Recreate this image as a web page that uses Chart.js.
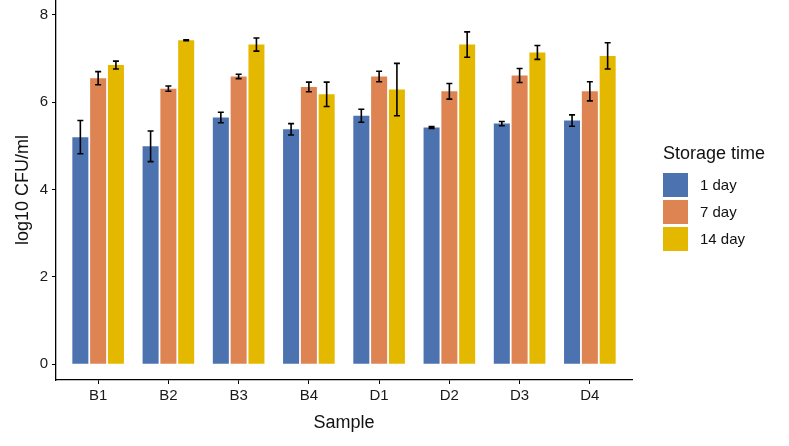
<!DOCTYPE html>
<html>
<head>
<meta charset="utf-8">
<script src="https://cdn.jsdelivr.net/npm/chart.js@4"></script>
<style>
  html, body { margin: 0; padding: 0; background: #fff; }
  #wrap { position: relative; width: 789px; height: 446px; font-family: "Liberation Sans", Arial, sans-serif; }
  #legend { position: absolute; left: 663px; top: 143px; color: #111; }
  #legend .title { font-size: 18px; margin-bottom: 7px; }
  #legend .item { display: flex; align-items: center; height: 27px; font-size: 15px; }
  #legend .sw { width: 25px; height: 24px; margin-right: 12px; }
</style>
</head>
<body>
<div id="wrap">
  <canvas id="chart" width="789" height="446"></canvas>
  <div id="legend"></div>
</div>
<script>
const samples = ['B1', 'B2', 'B3', 'B4', 'D1', 'D2', 'D3', 'D4'];
const seriesNames = ['1 day', '7 day', '14 day'];
const seriesColors = ['#4C72B0', '#DE8452', '#E5B800'];

// means
const day1 = [5.20, 4.99, 5.65, 5.38, 5.69, 5.42, 5.51, 5.58];
const day7 = [6.55, 6.31, 6.59, 6.35, 6.59, 6.25, 6.61, 6.25];
const day14 = [6.85, 7.42, 7.32, 6.18, 6.29, 7.32, 7.14, 7.06];

// error (+/-)
const day1Err = [0.38, 0.35, 0.12, 0.13, 0.15, 0.02, 0.05, 0.13];
const day7Err = [0.15, 0.06, 0.05, 0.11, 0.12, 0.18, 0.16, 0.22];
const day14Err = [0.09, 0.01, 0.15, 0.28, 0.60, 0.29, 0.16, 0.30];

const yTicks = [0, 2, 4, 6, 8];

const means = [day1, day7, day14];
const errs = [day1Err, day7Err, day14Err];

const datasets = means.map((vals, i) => ({
    label: seriesNames[i],
    data: vals.map((v, j) => ({ x: j + 1, y: v })),
    backgroundColor: seriesColors[i],
    borderWidth: 0,
    categoryPercentage: 0.76,
    barPercentage: 0.9,
    errors: errs[i]
}));

// error bars drawn through the y scale
const errorBars = {
    id: 'errorBars',
    afterDatasetsDraw(chart) {
        const ctx = chart.ctx;
        const y = chart.scales.y;
        ctx.save();
        ctx.strokeStyle = '#000';
        ctx.lineWidth = 1.6;
        chart.data.datasets.forEach((ds, i) => {
            const meta = chart.getDatasetMeta(i);
            meta.data.forEach((bar, j) => {
                const v = ds.data[j].y;
                const e = ds.errors[j];
                const top = y.getPixelForValue(v + e);
                const bot = y.getPixelForValue(v - e);
                const cx = bar.x;
                ctx.beginPath();
                ctx.moveTo(cx, top); ctx.lineTo(cx, bot);
                ctx.moveTo(cx - 3, top); ctx.lineTo(cx + 3, top);
                ctx.moveTo(cx - 3, bot); ctx.lineTo(cx + 3, bot);
                ctx.stroke();
            });
        });
        ctx.restore();
    }
};

const font = 'Liberation Sans';

new Chart(document.getElementById('chart'), {
    type: 'bar',
    data: { datasets: datasets },
    options: {
        responsive: false,
        animation: false,
        layout: { padding: { left: 8, right: 157, top: 0, bottom: 8 } },
        plugins: { legend: { display: false }, tooltip: { enabled: false } },
        scales: {
            x: {
                type: 'linear',
                offset: false,
                min: 0.4,
                max: 8.6,
                afterBuildTicks: s => { s.ticks = samples.map((_, i) => ({ value: i + 1 })); },
                afterFit: s => { s.height = 58; s.paddingLeft = 0; s.paddingRight = 0; },
                ticks: {
                    callback: v => samples[v - 1],
                    color: '#1a1a1a',
                    font: { family: font, size: 15 },
                    padding: 3,
                    autoSkip: false,
                    maxRotation: 0
                },
                grid: { offset: false, drawOnChartArea: false, drawTicks: true, tickLength: 4, color: '#000' },
                border: { display: true, color: '#000', width: 1.3 },
                title: { display: true, text: 'Sample', color: '#111', font: { family: font, size: 18 }, padding: { top: 2, bottom: 4 } }
            },
            y: {
                min: -0.36,
                max: 8.34,
                afterBuildTicks: s => { s.ticks = yTicks.map(v => ({ value: v })); },
                afterFit: s => { s.width = 48; s.paddingTop = 0; s.paddingBottom = 0; },
                ticks: { color: '#1a1a1a', font: { family: font, size: 15 }, padding: 4 },
                grid: { drawOnChartArea: false, drawTicks: true, tickLength: 4, color: '#000' },
                border: { display: true, color: '#000', width: 1.3 },
                title: { display: true, text: 'log10 CFU/ml', color: '#111', font: { family: font, size: 18 }, padding: { top: 4, bottom: 0 } }
            }
        }
    },
    plugins: [errorBars]
});

// legend
const legend = document.getElementById('legend');
legend.innerHTML = '<div class="title">Storage time</div>' +
    seriesNames.map((n, i) => `<div class="item"><div class="sw" style="background:${seriesColors[i]}"></div>${n}</div>`).join('');
</script>
</body>
</html>
